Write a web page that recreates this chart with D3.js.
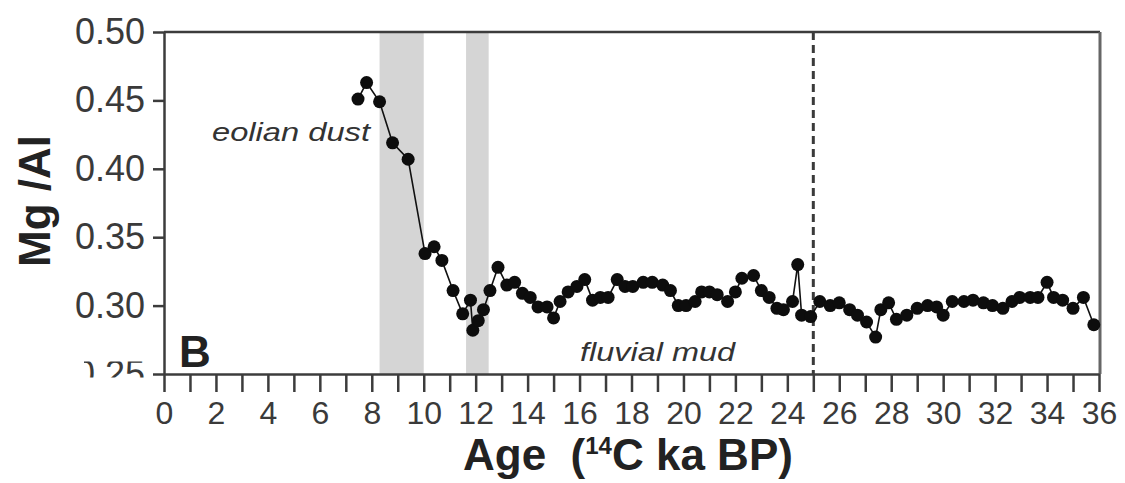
<!DOCTYPE html>
<html>
<head>
<meta charset="utf-8">
<script src="https://cdn.jsdelivr.net/npm/d3@7"></script>
<style>
  body { margin: 0; background: #fff; }
  svg { display: block; font-family: Arial, "Liberation Sans", sans-serif; }
</style>
</head>
<body>
<svg id="chart" width="1125" height="483"></svg>
<script>
// Age (14C ka BP) and Mg/Al values
const ages = [7.47, 7.8, 8.3, 8.8, 9.4, 10.05, 10.4, 10.7, 11.13, 11.5,
  11.8, 11.89, 12.1, 12.3, 12.55, 12.86, 13.2, 13.5, 13.8, 14.1,
  14.4, 14.75, 15.0, 15.25, 15.56, 15.9, 16.2, 16.5, 16.8, 17.1,
  17.45, 17.75, 18.05, 18.45, 18.8, 19.2, 19.5, 19.8, 20.1, 20.45,
  20.7, 21.0, 21.3, 21.7, 22.0, 22.25, 22.7, 23.0, 23.3, 23.6,
  23.85, 24.2, 24.4, 24.55, 24.9, 25.25, 25.65, 26.0, 26.4, 26.7,
  27.05, 27.4, 27.6, 27.9, 28.2, 28.6, 29.0, 29.4, 29.75, 30.0,
  30.35, 30.8, 31.15, 31.55, 31.9, 32.3, 32.65, 32.95, 33.35, 33.65,
  34.0, 34.25, 34.6, 35.0, 35.4, 35.8];
const mgAl = [0.451, 0.463, 0.449, 0.419, 0.407, 0.338, 0.343, 0.333, 0.311, 0.294,
  0.304, 0.282, 0.289, 0.297, 0.311, 0.328, 0.315, 0.317, 0.309, 0.306,
  0.299, 0.299, 0.291, 0.303, 0.310, 0.314, 0.319, 0.304, 0.306, 0.306,
  0.319, 0.314, 0.314, 0.317, 0.317, 0.315, 0.311, 0.300, 0.300, 0.303,
  0.310, 0.310, 0.308, 0.303, 0.310, 0.320, 0.322, 0.311, 0.306, 0.298,
  0.297, 0.303, 0.330, 0.293, 0.292, 0.303, 0.300, 0.302, 0.297, 0.293,
  0.288, 0.277, 0.297, 0.302, 0.290, 0.293, 0.298, 0.300, 0.299, 0.293,
  0.303, 0.303, 0.304, 0.302, 0.300, 0.298, 0.303, 0.306, 0.306, 0.306,
  0.317, 0.306, 0.304, 0.298, 0.306, 0.286];

// shaded intervals and the dashed boundary
const bands = [[8.3, 10.0], [11.63, 12.5]];
const boundaryAge = 25;

const yTicks = [0.25, 0.30, 0.35, 0.40, 0.45, 0.50];
const xTicks = d3.range(0, 37, 1);

const svg = d3.select("#chart");
const axisColor = "#3c3c3c";

const x = d3.scaleLinear().domain([0, 36]).range([164, 1099]);
const y = d3.scaleLinear().domain([0.25, 0.50]).range([374, 32]);

// gray bands
svg.selectAll(".band")
  .data(bands)
  .enter().append("rect")
  .attr("class", "band")
  .attr("x", d => x(d[0]))
  .attr("width", d => x(d[1]) - x(d[0]))
  .attr("y", y(0.50))
  .attr("height", y(0.25) - y(0.50))
  .style("fill", "#d5d5d5");

// dashed boundary
svg.append("line")
  .attr("x1", x(boundaryAge)).attr("x2", x(boundaryAge))
  .attr("y1", y(0.50)).attr("y2", y(0.25))
  .style("stroke", "#3a3a3a")
  .style("stroke-width", 3)
  .style("stroke-dasharray", "8,5");

// frame: top and right
svg.append("line")
  .attr("x1", x(0)).attr("x2", x(36) + 1)
  .attr("y1", y(0.50)).attr("y2", y(0.50))
  .style("stroke", axisColor).style("stroke-width", 2.5);
svg.append("line")
  .attr("x1", x(36) + 1).attr("x2", x(36) + 1)
  .attr("y1", y(0.50)).attr("y2", y(0.25))
  .style("stroke", "#666").style("stroke-width", 3);

// axes
const yAxis = svg.append("g")
  .attr("transform", `translate(${x(0)},0)`)
  .call(d3.axisLeft(y).tickValues(yTicks).tickFormat(d3.format(".2f"))
    .tickSize(11).tickSizeOuter(0).tickPadding(8));

const xAxis = svg.append("g")
  .attr("transform", `translate(0,${y(0.25)})`)
  .call(d3.axisBottom(x).tickValues(xTicks)
    .tickFormat(d => d % 2 === 0 ? d : "")
    .tickSize(18).tickSizeOuter(0).tickPadding(9));

[yAxis, xAxis].forEach(g => {
  g.select(".domain").style("stroke", axisColor).style("stroke-width", 2.5);
  g.selectAll(".tick line").style("stroke", axisColor).style("stroke-width", 2.5);
  g.selectAll(".tick text").style("fill", "#3a3a3a").style("font-family", "Arial, 'Liberation Sans', sans-serif");
});
yAxis.selectAll(".tick text").style("font-size", "36px");
xAxis.selectAll(".tick text").style("font-size", "32px");

// 0.25 label is only partly visible in the original
svg.append("clipPath").attr("id", "cut25")
  .append("rect").attr("x", -80).attr("y", -13).attr("width", 80).attr("height", 16);
yAxis.selectAll(".tick").filter(d => d === 0.25)
  .select("text").attr("clip-path", "url(#cut25)");

// connecting line
const pts = ages.map((a, i) => [a, mgAl[i]]);
svg.append("path")
  .datum(pts)
  .attr("d", d3.line().x(d => x(d[0])).y(d => y(d[1])))
  .style("fill", "none")
  .style("stroke", "#111")
  .style("stroke-width", 1.6);

// dots
svg.selectAll(".dot")
  .data(pts)
  .enter().append("circle")
  .attr("class", "dot")
  .attr("cx", d => x(d[0]))
  .attr("cy", d => y(d[1]))
  .attr("r", 6.5)
  .style("fill", "#0d0d0d");

// annotations
svg.append("text")
  .attr("x", 212).attr("y", 141)
  .attr("textLength", 158).attr("lengthAdjust", "spacingAndGlyphs")
  .style("font-size", "26px").style("font-style", "italic").style("fill", "#333")
  .text("eolian dust");

svg.append("text")
  .attr("x", 580).attr("y", 361)
  .attr("textLength", 155).attr("lengthAdjust", "spacingAndGlyphs")
  .style("font-size", "26px").style("font-style", "italic").style("fill", "#333")
  .text("fluvial mud");

svg.append("text")
  .attr("x", 179).attr("y", 367)
  .style("font-size", "44px").style("font-weight", "bold").style("fill", "#222")
  .text("B");

// axis titles
const xTitle = svg.append("text")
  .attr("x", 463).attr("y", 470)
  .style("font-size", "44px").style("font-weight", "bold").style("fill", "#222")
  .attr("xml:space", "preserve");
xTitle.append("tspan").text("Age  (");
xTitle.append("tspan").attr("dy", -16).style("font-size", "24px").text("14");
xTitle.append("tspan").attr("dy", 16).text("C ka BP)");

svg.append("text")
  .attr("transform", "translate(50,201) rotate(-90)")
  .attr("text-anchor", "middle")
  .style("font-size", "44px").style("font-weight", "bold").style("fill", "#222")
  .text("Mg /Al");
</script>
</body>
</html>
